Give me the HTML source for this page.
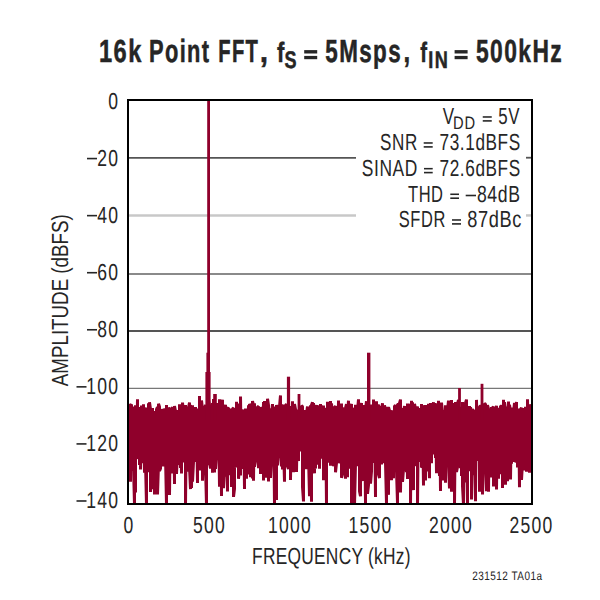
<!DOCTYPE html>
<html><head><meta charset="utf-8"><style>
html,body{margin:0;padding:0;background:#fff;}
body{width:600px;height:600px;position:relative;overflow:hidden;font-family:"Liberation Sans",sans-serif;}
</style></head><body>
<svg width="600" height="600" viewBox="0 0 600 600" style="position:absolute;left:0;top:0" text-rendering="geometricPrecision"><line x1="129" y1="157.90" x2="531" y2="157.90" stroke="#555" stroke-width="1.8"/><line x1="129" y1="215.50" x2="531" y2="215.50" stroke="#c8c8c8" stroke-width="2.5"/><line x1="129" y1="274.00" x2="531" y2="274.00" stroke="#8a8a8a" stroke-width="2.0"/><line x1="129" y1="331.10" x2="531" y2="331.10" stroke="#555" stroke-width="2.0"/><line x1="129" y1="388.40" x2="531" y2="388.40" stroke="#777" stroke-width="1.3"/><line x1="129" y1="446.00" x2="531" y2="446.00" stroke="#777" stroke-width="1.3"/><path d="M128.5,403.8 128.5,463.4 129.5,408.7 129.5,453.5 130.5,481.7 130.5,405.4 131.5,404.4 131.5,452.1 132.5,470.7 132.5,406.7 133.5,414.1 133.5,466.4 134.5,505.0 134.5,410.2 135.5,492.5 135.5,405.2 136.5,409.8 136.5,456.8 137.5,399.2 137.5,458.2 138.5,457.7 138.5,411.7 139.5,407.2 139.5,465.1 140.5,411.3 140.5,469.4 141.5,405.6 141.5,458.8 142.5,462.9 142.5,406.7 143.5,460.8 143.5,404.3 144.5,472.8 144.5,408.1 145.5,409.8 145.5,462.9 146.5,505.0 146.5,407.5 147.5,416.8 147.5,472.2 148.5,444.6 148.5,403.2 149.5,455.5 149.5,402.3 150.5,409.3 150.5,491.9 151.5,461.3 151.5,412.7 152.5,408.0 152.5,489.1 153.5,475.4 153.5,411.0 154.5,494.4 154.5,413.8 155.5,412.3 155.5,461.3 156.5,479.6 156.5,409.3 157.5,407.0 157.5,494.4 158.5,464.6 158.5,403.8 159.5,406.7 159.5,471.1 160.5,468.4 160.5,410.0 161.5,449.8 161.5,408.9 162.5,448.4 162.5,411.1 163.5,412.0 163.5,466.3 164.5,459.9 164.5,408.6 165.5,410.9 165.5,456.2 166.5,505.0 166.5,404.9 167.5,481.5 167.5,411.7 168.5,456.0 168.5,407.6 169.5,409.5 169.5,495.0 170.5,415.4 170.5,454.1 171.5,473.4 171.5,408.3 172.5,408.0 172.5,467.5 173.5,452.4 173.5,408.3 174.5,483.9 174.5,406.0 175.5,411.0 175.5,472.6 176.5,413.2 176.5,474.0 177.5,453.8 177.5,410.1 178.5,461.0 178.5,412.8 179.5,464.9 179.5,404.2 180.5,468.1 180.5,413.2 181.5,473.6 181.5,410.5 182.5,460.1 182.5,402.6 183.5,412.1 183.5,451.5 184.5,406.3 184.5,462.4 185.5,405.1 185.5,505.0 186.5,410.1 186.5,453.3 187.5,406.5 187.5,464.0 188.5,471.5 188.5,407.9 189.5,402.4 189.5,467.5 190.5,489.1 190.5,405.6 191.5,407.3 191.5,488.1 192.5,405.3 192.5,481.7 193.5,461.8 193.5,407.8 194.5,415.0 194.5,445.1 195.5,462.0 195.5,407.0 196.5,454.3 196.5,412.5 197.5,483.1 197.5,411.3 198.5,457.3 198.5,408.6 199.5,470.5 199.5,409.1 200.5,449.3 200.5,411.2 201.5,462.5 201.5,400.5 202.5,409.3 202.5,480.7 203.5,450.7 203.5,412.0 204.5,458.1 204.5,410.0 205.5,404.7 205.5,466.0 206.5,505.0 206.5,406.1 207.5,452.1 207.5,406.1 208.5,465.3 208.5,399.3 209.5,405.2 209.5,462.5 210.5,468.5 210.5,407.6 211.5,409.3 211.5,464.5 212.5,403.0 212.5,472.7 213.5,399.0 213.5,452.0 214.5,472.5 214.5,405.1 215.5,412.8 215.5,468.8 216.5,454.2 216.5,406.5 217.5,449.3 217.5,403.1 218.5,450.8 218.5,410.2 219.5,486.7 219.5,399.3 220.5,446.8 220.5,406.1 221.5,495.9 221.5,406.1 222.5,399.8 222.5,470.7 223.5,406.0 223.5,488.1 224.5,470.5 224.5,411.0 225.5,404.8 225.5,472.4 226.5,476.3 226.5,409.0 227.5,491.4 227.5,408.4 228.5,407.8 228.5,473.2 229.5,469.5 229.5,410.2 230.5,475.2 230.5,408.6 231.5,486.9 231.5,416.8 232.5,462.0 232.5,408.7 233.5,408.1 233.5,496.9 234.5,488.8 234.5,412.8 235.5,467.6 235.5,408.6 236.5,458.5 236.5,401.8 237.5,457.0 237.5,403.6 238.5,413.0 238.5,478.8 239.5,466.0 239.5,411.8 240.5,475.5 240.5,396.5 241.5,461.8 241.5,412.1 242.5,409.5 242.5,455.7 243.5,468.8 243.5,410.2 244.5,488.9 244.5,413.9 245.5,449.7 245.5,408.5 246.5,478.8 246.5,411.8 247.5,412.5 247.5,464.4 248.5,405.2 248.5,474.3 249.5,465.8 249.5,403.9 250.5,405.8 250.5,477.2 251.5,442.9 251.5,404.0 252.5,478.6 252.5,401.0 253.5,405.4 253.5,480.8 254.5,403.3 254.5,466.6 255.5,461.6 255.5,410.0 256.5,458.4 256.5,412.4 257.5,455.1 257.5,406.8 258.5,406.6 258.5,468.2 259.5,418.3 259.5,462.1 260.5,407.2 260.5,473.9 261.5,445.9 261.5,407.1 262.5,409.7 262.5,453.9 263.5,402.0 263.5,480.6 264.5,401.1 264.5,445.9 265.5,411.4 265.5,477.8 266.5,406.8 266.5,453.8 267.5,453.9 267.5,398.7 268.5,405.2 268.5,481.6 269.5,414.1 269.5,457.6 270.5,408.3 270.5,478.0 271.5,457.9 271.5,413.1 272.5,404.1 272.5,452.4 273.5,464.1 273.5,407.9 274.5,505.0 274.5,406.6 275.5,411.0 275.5,468.0 276.5,499.9 276.5,405.1 277.5,409.6 277.5,465.4 278.5,406.7 278.5,456.3 279.5,457.3 279.5,406.5 280.5,395.4 280.5,455.8 281.5,466.3 281.5,404.2 282.5,469.6 282.5,407.4 283.5,404.7 283.5,447.1 284.5,481.8 284.5,408.2 285.5,450.9 285.5,405.6 286.5,404.0 286.5,452.6 287.5,407.5 287.5,466.4 288.5,468.9 288.5,401.2 289.5,458.1 289.5,406.1 290.5,416.7 290.5,480.0 291.5,414.5 291.5,449.1 292.5,401.3 292.5,464.5 293.5,412.4 293.5,472.3 294.5,445.3 294.5,404.1 295.5,409.3 295.5,453.5 296.5,409.5 296.5,471.9 297.5,413.5 297.5,454.0 298.5,461.1 298.5,415.0 299.5,412.7 299.5,451.5 300.5,407.3 300.5,446.1 301.5,449.6 301.5,405.7 302.5,406.4 302.5,486.8 303.5,501.5 303.5,416.3 304.5,411.1 304.5,445.7 305.5,409.9 305.5,457.6 306.5,469.0 306.5,413.7 307.5,406.4 307.5,450.8 308.5,410.1 308.5,455.6 309.5,496.2 309.5,409.3 310.5,462.0 310.5,405.2 311.5,501.7 311.5,405.0 312.5,402.2 312.5,459.8 313.5,403.0 313.5,461.7 314.5,473.3 314.5,413.0 315.5,468.6 315.5,411.4 316.5,404.9 316.5,456.1 317.5,461.1 317.5,413.3 318.5,464.6 318.5,410.1 319.5,405.6 319.5,468.8 320.5,403.9 320.5,454.8 321.5,450.6 321.5,405.6 322.5,408.9 322.5,458.6 323.5,405.4 323.5,480.2 324.5,469.8 324.5,413.4 325.5,473.5 325.5,410.5 326.5,505.0 326.5,407.7 327.5,462.8 327.5,401.7 328.5,412.1 328.5,462.2 329.5,404.6 329.5,451.8 330.5,401.0 330.5,465.7 331.5,456.8 331.5,403.4 332.5,416.8 332.5,456.4 333.5,406.2 333.5,466.3 334.5,461.2 334.5,408.1 335.5,406.0 335.5,472.3 336.5,463.0 336.5,412.7 337.5,412.1 337.5,460.3 338.5,400.5 338.5,462.0 339.5,409.3 339.5,463.4 340.5,413.4 340.5,458.0 341.5,403.4 341.5,477.8 342.5,474.4 342.5,407.5 343.5,412.7 343.5,463.6 344.5,460.8 344.5,414.6 345.5,478.7 345.5,408.2 346.5,404.2 346.5,455.5 347.5,477.2 347.5,413.5 348.5,400.7 348.5,455.7 349.5,404.4 349.5,452.2 350.5,468.7 350.5,407.1 351.5,403.9 351.5,504.4 352.5,478.4 352.5,409.1 353.5,458.7 353.5,410.4 354.5,408.2 354.5,505.0 355.5,463.6 355.5,404.7 356.5,463.1 356.5,406.2 357.5,466.2 357.5,410.7 358.5,399.3 358.5,463.7 359.5,404.8 359.5,491.2 360.5,496.2 360.5,412.2 361.5,403.0 361.5,454.1 362.5,413.4 362.5,478.2 363.5,480.6 363.5,408.0 364.5,463.0 364.5,405.1 365.5,503.1 365.5,409.6 366.5,401.2 366.5,458.5 367.5,414.7 367.5,493.9 368.5,485.0 368.5,403.8 369.5,454.8 369.5,412.6 370.5,404.6 370.5,483.6 371.5,471.3 371.5,415.1 372.5,408.0 372.5,462.9 373.5,450.1 373.5,399.4 374.5,459.5 374.5,412.1 375.5,497.1 375.5,411.4 376.5,474.9 376.5,401.2 377.5,463.6 377.5,409.5 378.5,404.4 378.5,474.6 379.5,478.0 379.5,411.8 380.5,460.9 380.5,405.7 381.5,464.5 381.5,410.1 382.5,403.2 382.5,463.1 383.5,454.4 383.5,407.1 384.5,460.7 384.5,405.2 385.5,410.7 385.5,462.8 386.5,504.0 386.5,418.1 387.5,406.8 387.5,477.9 388.5,494.8 388.5,407.2 389.5,410.7 389.5,466.3 390.5,412.9 390.5,461.6 391.5,480.2 391.5,413.3 392.5,410.6 392.5,470.9 393.5,478.3 393.5,410.9 394.5,471.5 394.5,406.3 395.5,405.3 395.5,446.5 396.5,407.3 396.5,470.6 397.5,503.0 397.5,404.4 398.5,404.1 398.5,467.6 399.5,465.7 399.5,403.2 400.5,399.6 400.5,492.5 401.5,409.9 401.5,467.5 402.5,407.9 402.5,481.8 403.5,469.5 403.5,412.5 404.5,406.0 404.5,459.3 405.5,411.3 405.5,453.6 406.5,472.2 406.5,412.8 407.5,479.0 407.5,403.6 408.5,414.1 408.5,467.2 409.5,464.4 409.5,404.3 410.5,405.2 410.5,505.0 411.5,400.7 411.5,455.0 412.5,402.3 412.5,453.6 413.5,490.1 413.5,410.0 414.5,460.3 414.5,403.9 415.5,408.9 415.5,463.8 416.5,465.6 416.5,409.0 417.5,406.6 417.5,505.0 418.5,407.9 418.5,461.9 419.5,410.2 419.5,447.8 420.5,408.3 420.5,457.5 421.5,404.0 421.5,467.5 422.5,466.3 422.5,417.5 423.5,485.4 423.5,406.9 424.5,406.0 424.5,463.7 425.5,405.1 425.5,480.5 426.5,410.6 426.5,452.3 427.5,471.4 427.5,405.5 428.5,457.1 428.5,403.8 429.5,478.2 429.5,415.6 430.5,461.9 430.5,403.1 431.5,463.2 431.5,410.5 432.5,450.6 432.5,410.5 433.5,402.3 433.5,449.7 434.5,454.1 434.5,403.0 435.5,458.0 435.5,403.2 436.5,473.3 436.5,408.6 437.5,411.9 437.5,457.5 438.5,400.7 438.5,449.2 439.5,476.0 439.5,402.6 440.5,491.1 440.5,410.5 441.5,461.3 441.5,402.6 442.5,412.3 442.5,445.2 443.5,412.7 443.5,480.4 444.5,410.1 444.5,465.8 445.5,405.2 445.5,482.8 446.5,405.5 446.5,466.6 447.5,460.1 447.5,410.7 448.5,400.6 448.5,461.5 449.5,488.4 449.5,409.0 450.5,417.0 450.5,469.7 451.5,400.1 451.5,491.8 452.5,407.3 452.5,448.5 453.5,403.1 453.5,461.9 454.5,415.9 454.5,505.0 455.5,401.9 455.5,443.1 456.5,407.5 456.5,472.0 457.5,466.9 457.5,403.9 458.5,399.9 458.5,453.0 459.5,411.7 459.5,457.2 460.5,468.0 460.5,407.3 461.5,408.5 461.5,476.1 462.5,402.0 462.5,486.0 463.5,505.0 463.5,410.3 464.5,482.4 464.5,413.4 465.5,464.3 465.5,402.9 466.5,399.6 466.5,456.0 467.5,503.2 467.5,413.6 468.5,406.1 468.5,450.7 469.5,471.2 469.5,406.0 470.5,457.6 470.5,407.3 471.5,412.3 471.5,499.4 472.5,448.4 472.5,410.0 473.5,410.3 473.5,461.4 474.5,475.2 474.5,410.9 475.5,501.2 475.5,411.5 476.5,461.0 476.5,399.9 477.5,458.7 477.5,407.4 478.5,453.2 478.5,413.1 479.5,491.7 479.5,407.0 480.5,405.8 480.5,457.0 481.5,404.8 481.5,463.8 482.5,409.2 482.5,494.5 483.5,459.7 483.5,406.3 484.5,459.2 484.5,403.5 485.5,404.0 485.5,449.0 486.5,491.3 486.5,409.7 487.5,449.7 487.5,405.0 488.5,408.9 488.5,491.8 489.5,412.4 489.5,454.9 490.5,411.7 490.5,477.5 491.5,461.1 491.5,407.0 492.5,462.5 492.5,407.6 493.5,406.8 493.5,486.6 494.5,408.8 494.5,475.0 495.5,457.1 495.5,410.1 496.5,405.8 496.5,489.5 497.5,407.7 497.5,462.4 498.5,412.8 498.5,478.8 499.5,415.2 499.5,474.3 500.5,405.5 500.5,464.2 501.5,404.9 501.5,453.0 502.5,409.9 502.5,488.0 503.5,399.8 503.5,449.3 504.5,452.7 504.5,402.3 505.5,409.6 505.5,484.7 506.5,413.3 506.5,479.0 507.5,406.4 507.5,481.2 508.5,401.5 508.5,467.3 509.5,468.5 509.5,404.7 510.5,411.7 510.5,479.6 511.5,407.4 511.5,463.8 512.5,409.7 512.5,440.5 513.5,460.6 513.5,412.8 514.5,403.0 514.5,461.8 515.5,460.6 515.5,408.1 516.5,402.1 516.5,446.2 517.5,409.8 517.5,467.4 518.5,454.2 518.5,408.5 519.5,487.3 519.5,411.1 520.5,463.1 520.5,409.3 521.5,407.7 521.5,480.0 522.5,462.2 522.5,410.0 523.5,414.5 523.5,470.6 524.5,407.9 524.5,460.9 525.5,444.1 525.5,406.8 526.5,471.7 526.5,408.8 527.5,459.4 527.5,399.2 528.5,450.3 528.5,407.0 529.5,472.7 529.5,413.8 530.5,446.5 530.5,404.3 531.5,410.3 531.5,457.8" fill="none" stroke="#8f002b" stroke-width="3.0" stroke-linejoin="bevel"/><rect x="207.20" y="100.00" width="2.80" height="320.00" fill="#8f002b"/><rect x="206.40" y="352.70" width="3.60" height="67.30" fill="#8f002b"/><rect x="205.40" y="372.00" width="5.20" height="48.00" fill="#8f002b"/><rect x="198.00" y="396.00" width="3.00" height="24.00" fill="#8f002b"/><rect x="213.20" y="394.00" width="3.60" height="26.00" fill="#8f002b"/><rect x="286.90" y="376.70" width="3.20" height="43.30" fill="#8f002b"/><rect x="297.60" y="394.00" width="2.80" height="26.00" fill="#8f002b"/><rect x="367.00" y="352.70" width="3.40" height="67.30" fill="#8f002b"/><rect x="480.60" y="383.80" width="2.80" height="36.20" fill="#8f002b"/><rect x="458.10" y="388.00" width="2.80" height="32.00" fill="#8f002b"/><rect x="356" y="101" width="175" height="130" fill="#fff"/><line x1="526" y1="157.71" x2="531" y2="157.71" stroke="#555" stroke-width="1.8"/><line x1="526" y1="215.43" x2="531" y2="215.43" stroke="#c8c8c8" stroke-width="2.5"/><rect x="128" y="100" width="404" height="404" fill="none" stroke="#000" stroke-width="2"/><rect x="482.75" y="116.20" width="9.00" height="1.55" fill="#262626"/><rect x="482.75" y="120.10" width="9.00" height="1.6" fill="#262626"/><rect x="423.7" y="142.20" width="9.00" height="1.55" fill="#262626"/><rect x="423.7" y="146.10" width="9.00" height="1.6" fill="#262626"/><rect x="424.0" y="167.90" width="8.70" height="1.55" fill="#262626"/><rect x="424.0" y="171.80" width="8.70" height="1.6" fill="#262626"/><rect x="450.3" y="193.50" width="8.70" height="1.55" fill="#262626"/><rect x="450.3" y="197.40" width="8.70" height="1.6" fill="#262626"/><rect x="452.0" y="219.20" width="9.00" height="1.55" fill="#262626"/><rect x="452.0" y="223.10" width="9.00" height="1.6" fill="#262626"/><rect x="465.7" y="194.7" width="10.3" height="1.6" fill="#262626"/><rect x="304.2" y="50.1" width="13" height="3.4" fill="#262626"/><rect x="304.2" y="55.9" width="13" height="3.3" fill="#262626"/><rect x="454.6" y="50.1" width="13" height="3.4" fill="#262626"/><rect x="454.6" y="55.9" width="13" height="3.3" fill="#262626"/><g transform="translate(98.92,62.0) scale(0.7382,1.0)"><text x="0" y="0" font-size="32" font-weight="bold" fill="#262626" letter-spacing="2.0" font-family="Liberation Sans, sans-serif" stroke="#231f20" stroke-width="0.5">16k</text></g><g transform="translate(149.03,62.0) scale(0.6826,1.0)"><text x="0" y="0" font-size="32" font-weight="bold" fill="#262626" letter-spacing="2.0" font-family="Liberation Sans, sans-serif" stroke="#231f20" stroke-width="0.5">Point</text></g><g transform="translate(218.34,62.0) scale(0.6311,1.0)"><text x="0" y="0" font-size="32" font-weight="bold" fill="#262626" letter-spacing="2.0" font-family="Liberation Sans, sans-serif" stroke="#231f20" stroke-width="0.5">FFT</text></g><g transform="translate(259.72,62.0) scale(0.9400,1.0)"><text x="0" y="0" font-size="32" font-weight="bold" fill="#262626" letter-spacing="2.0" font-family="Liberation Sans, sans-serif" stroke="#231f20" stroke-width="0.5">,</text></g><g transform="translate(277.00,62.0) scale(0.6909,0.87)"><text x="0" y="0" font-size="32" font-weight="bold" fill="#262626" letter-spacing="2.0" font-family="Liberation Sans, sans-serif" stroke="#231f20" stroke-width="0.5">f</text></g><g transform="translate(284.45,67.6) scale(0.7500,1.0)"><text x="0" y="0" font-size="24" font-weight="bold" fill="#262626" letter-spacing="2.0" font-family="Liberation Sans, sans-serif" stroke="#231f20" stroke-width="0.5">S</text></g><g transform="translate(325.30,62.0) scale(0.7000,1.0)"><text x="0" y="0" font-size="32" font-weight="bold" fill="#262626" letter-spacing="2.0" font-family="Liberation Sans, sans-serif" stroke="#231f20" stroke-width="0.5">5Msps</text></g><g transform="translate(403.50,62.0) scale(0.7500,1.0)"><text x="0" y="0" font-size="32" font-weight="bold" fill="#262626" letter-spacing="2.0" font-family="Liberation Sans, sans-serif" stroke="#231f20" stroke-width="0.5">,</text></g><g transform="translate(420.25,62.0) scale(0.6364,0.87)"><text x="0" y="0" font-size="32" font-weight="bold" fill="#262626" letter-spacing="2.0" font-family="Liberation Sans, sans-serif" stroke="#231f20" stroke-width="0.5">f</text></g><g transform="translate(428.25,68.2) scale(0.7542,1.0)"><text x="0" y="0" font-size="24" font-weight="bold" fill="#262626" letter-spacing="2.0" font-family="Liberation Sans, sans-serif" stroke="#231f20" stroke-width="0.5">IN</text></g><g transform="translate(475.99,62.0) scale(0.7127,1.0)"><text x="0" y="0" font-size="32" font-weight="bold" fill="#262626" letter-spacing="2.0" font-family="Liberation Sans, sans-serif" stroke="#231f20" stroke-width="0.5">500kHz</text></g><g transform="translate(442.75,124.3) scale(0.7300,1.0)"><text x="0" y="0" font-size="23.3" font-weight="normal" fill="#262626" letter-spacing="0.8" font-family="Liberation Sans, sans-serif" >V</text></g><g transform="translate(453.12,128.75) scale(0.8125,1.0)"><text x="0" y="0" font-size="18.1" font-weight="normal" fill="#262626" letter-spacing="0.8" font-family="Liberation Sans, sans-serif" >DD</text></g><g transform="translate(498.28,124.3) scale(0.7232,1.0)"><text x="0" y="0" font-size="23.3" font-weight="normal" fill="#262626" letter-spacing="0.8" font-family="Liberation Sans, sans-serif" >5V</text></g><g transform="translate(380.07,150.3) scale(0.7327,1.0)"><text x="0" y="0" font-size="23.3" font-weight="normal" fill="#262626" letter-spacing="0.8" font-family="Liberation Sans, sans-serif" >SNR</text></g><g transform="translate(439.56,150.3) scale(0.7383,1.0)"><text x="0" y="0" font-size="23.3" font-weight="normal" fill="#262626" letter-spacing="0.8" font-family="Liberation Sans, sans-serif" >73.1dBFS</text></g><g transform="translate(361.75,176.0) scale(0.7472,1.0)"><text x="0" y="0" font-size="23.3" font-weight="normal" fill="#262626" letter-spacing="0.8" font-family="Liberation Sans, sans-serif" >SINAD</text></g><g transform="translate(439.56,176.0) scale(0.7383,1.0)"><text x="0" y="0" font-size="23.3" font-weight="normal" fill="#262626" letter-spacing="0.8" font-family="Liberation Sans, sans-serif" >72.6dBFS</text></g><g transform="translate(407.99,201.6) scale(0.7077,1.0)"><text x="0" y="0" font-size="23.3" font-weight="normal" fill="#262626" letter-spacing="0.8" font-family="Liberation Sans, sans-serif" >THD</text></g><g transform="translate(476.94,201.6) scale(0.7564,1.0)"><text x="0" y="0" font-size="23.3" font-weight="normal" fill="#262626" letter-spacing="0.8" font-family="Liberation Sans, sans-serif" >84dB</text></g><g transform="translate(398.79,227.3) scale(0.7062,1.0)"><text x="0" y="0" font-size="23.3" font-weight="normal" fill="#262626" letter-spacing="0.8" font-family="Liberation Sans, sans-serif" >SFDR</text></g><g transform="translate(467.22,227.3) scale(0.7821,1.0)"><text x="0" y="0" font-size="23.3" font-weight="normal" fill="#262626" letter-spacing="0.8" font-family="Liberation Sans, sans-serif" >87dBc</text></g><g transform="translate(119.2,108.6) scale(0.753,1)"><text x="0" y="0" font-size="23.3" text-anchor="end" font-weight="normal" fill="#262626" letter-spacing="1.616" font-family="Liberation Sans, sans-serif" >0</text></g><g transform="translate(119.2,165.67) scale(0.753,1)"><text x="0" y="0" font-size="23.3" text-anchor="end" font-weight="normal" fill="#262626" letter-spacing="1.616" font-family="Liberation Sans, sans-serif" >20</text></g><rect x="87.00" y="157.77" width="10" height="1.6" fill="#262626"/><g transform="translate(119.2,222.74) scale(0.753,1)"><text x="0" y="0" font-size="23.3" text-anchor="end" font-weight="normal" fill="#262626" letter-spacing="1.616" font-family="Liberation Sans, sans-serif" >40</text></g><rect x="87.00" y="214.84" width="10" height="1.6" fill="#262626"/><g transform="translate(119.2,279.81) scale(0.753,1)"><text x="0" y="0" font-size="23.3" text-anchor="end" font-weight="normal" fill="#262626" letter-spacing="1.616" font-family="Liberation Sans, sans-serif" >60</text></g><rect x="87.00" y="271.91" width="10" height="1.6" fill="#262626"/><g transform="translate(119.2,336.88) scale(0.753,1)"><text x="0" y="0" font-size="23.3" text-anchor="end" font-weight="normal" fill="#262626" letter-spacing="1.616" font-family="Liberation Sans, sans-serif" >80</text></g><rect x="87.00" y="328.98" width="10" height="1.6" fill="#262626"/><g transform="translate(119.2,393.95000000000005) scale(0.753,1)"><text x="0" y="0" font-size="23.3" text-anchor="end" font-weight="normal" fill="#262626" letter-spacing="1.616" font-family="Liberation Sans, sans-serif" >100</text></g><rect x="76.50" y="386.05" width="10" height="1.6" fill="#262626"/><g transform="translate(119.2,451.02) scale(0.753,1)"><text x="0" y="0" font-size="23.3" text-anchor="end" font-weight="normal" fill="#262626" letter-spacing="1.616" font-family="Liberation Sans, sans-serif" >120</text></g><rect x="76.50" y="443.12" width="10" height="1.6" fill="#262626"/><g transform="translate(119.2,508.09000000000003) scale(0.753,1)"><text x="0" y="0" font-size="23.3" text-anchor="end" font-weight="normal" fill="#262626" letter-spacing="1.616" font-family="Liberation Sans, sans-serif" >140</text></g><rect x="76.50" y="500.19" width="10" height="1.6" fill="#262626"/><g transform="translate(129.1,532.6) scale(0.753,1)"><text x="0" y="0" font-size="23.3" text-anchor="middle" font-weight="normal" fill="#262626" letter-spacing="1.616" font-family="Liberation Sans, sans-serif" >0</text></g><g transform="translate(209.55999999999997,532.6) scale(0.753,1)"><text x="0" y="0" font-size="23.3" text-anchor="middle" font-weight="normal" fill="#262626" letter-spacing="1.616" font-family="Liberation Sans, sans-serif" >500</text></g><g transform="translate(290.02,532.6) scale(0.753,1)"><text x="0" y="0" font-size="23.3" text-anchor="middle" font-weight="normal" fill="#262626" letter-spacing="1.616" font-family="Liberation Sans, sans-serif" >1000</text></g><g transform="translate(370.48,532.6) scale(0.753,1)"><text x="0" y="0" font-size="23.3" text-anchor="middle" font-weight="normal" fill="#262626" letter-spacing="1.616" font-family="Liberation Sans, sans-serif" >1500</text></g><g transform="translate(450.94,532.6) scale(0.753,1)"><text x="0" y="0" font-size="23.3" text-anchor="middle" font-weight="normal" fill="#262626" letter-spacing="1.616" font-family="Liberation Sans, sans-serif" >2000</text></g><g transform="translate(531.4,532.6) scale(0.753,1)"><text x="0" y="0" font-size="23.3" text-anchor="middle" font-weight="normal" fill="#262626" letter-spacing="1.616" font-family="Liberation Sans, sans-serif" >2500</text></g><g transform="translate(331.4,564.3) scale(0.744,1)"><text x="0" y="0" font-size="23.3" text-anchor="middle" font-weight="normal" fill="#262626" letter-spacing="0.362" font-family="Liberation Sans, sans-serif" >FREQUENCY (kHz)</text></g><g transform="translate(67.8,300.2) rotate(-90) scale(0.805,1)"><text x="0" y="0" font-size="23.3" text-anchor="middle" fill="#262626" font-family="Liberation Sans, sans-serif">AMPLITUDE (dBFS)</text></g><g transform="translate(542.5,579.6) scale(0.81,1)"><text x="0" y="0" font-size="12.3" text-anchor="end" font-weight="normal" fill="#262626" letter-spacing="0.6" font-family="Liberation Sans, sans-serif" >231512 TA01a</text></g></svg>
</body></html>
